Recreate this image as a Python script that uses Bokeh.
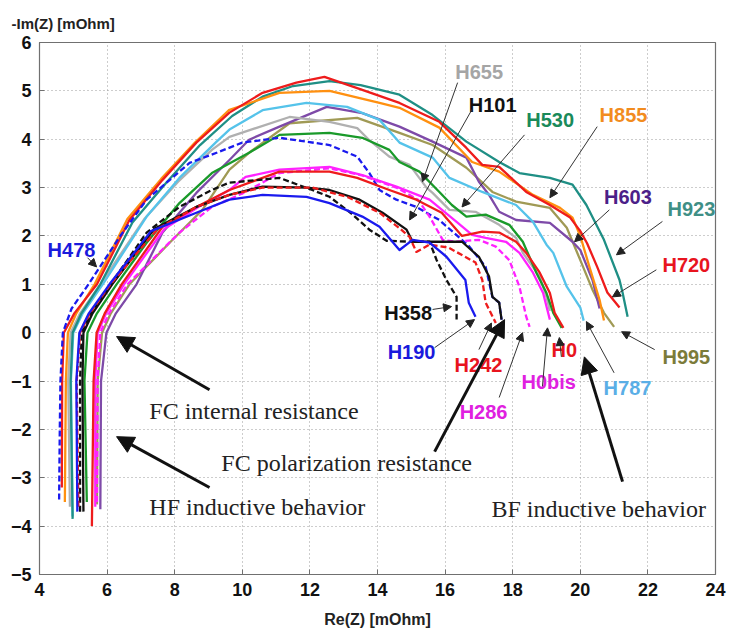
from bokeh.plotting import figure
from bokeh.models import Label, Arrow, NormalHead, SingleIntervalTicker
from bokeh.embed import file_html
from bokeh.resources import INLINE

# ---------------- data (Re(Z), -Im(Z)) in mOhm ----------------
H0_x = [5.55, 5.6, 5.69, 5.93, 6.43, 7.64, 8.64, 9.62, 11.1, 12.58, 13.4, 14.35, 15.15, 15.9, 16.5, 17.1, 17.6, 18.1, 18.4, 18.8, 19.1, 19.24, 19.5]
H0_y = [-4.0, -1.0, 0.0, 0.4, 1.0, 2.19, 2.6, 2.95, 3.33, 3.33, 3.2, 2.95, 2.75, 2.48, 2.0, 2.09, 2.07, 1.88, 1.65, 1.24, 0.82, 0.41, 0.1]

H0bis_x = [5.65, 5.65, 5.72, 5.97, 6.5, 7.7, 8.7, 9.62, 10.1, 11.1, 12.58, 13.55, 14.56, 15.54, 16.34, 16.8, 17.2, 17.8, 18.2, 18.6, 18.9, 19.0, 19.1]
H0bis_y = [-3.6, -1.0, 0.0, 0.4, 1.0, 2.15, 2.6, 2.95, 3.22, 3.37, 3.43, 3.26, 3.02, 2.75, 2.29, 2.02, 1.96, 1.88, 1.65, 1.24, 0.82, 0.54, 0.27]

H101_x = [5.3, 5.27, 5.3, 5.57, 6.15, 7.4, 8.64, 9.62, 10.6, 11.9, 12.58, 13.47, 14.15, 14.86, 15.04, 16.5, 17.0, 17.3, 17.4, 17.6, 17.67]
H101_y = [-3.7, -1.0, 0.0, 0.4, 1.0, 2.15, 2.6, 2.85, 3.02, 3.0, 2.95, 2.75, 2.48, 2.13, 1.88, 1.88, 1.57, 1.16, 0.74, 0.62, 0.27]

H190_x = [5.12, 5.09, 5.18, 5.46, 6.07, 7.3, 8.64, 9.62, 10.6, 11.9, 12.58, 13.55, 14.06, 14.65, 15.04, 15.54, 16.04, 16.6, 16.7, 16.9]
H190_y = [-3.7, -1.0, 0.0, 0.4, 1.0, 2.1, 2.48, 2.75, 2.85, 2.81, 2.68, 2.4, 2.19, 1.71, 1.92, 1.86, 1.57, 1.09, 0.62, 0.33]

H242_x = [5.15, 5.1, 5.2, 5.49, 6.1, 7.5, 8.64, 9.62, 10.6, 12.07, 13.1, 14.06, 14.65, 14.95, 15.15, 15.54, 16.1, 16.9, 17.1, 17.2, 17.5]
H242_y = [-3.6, -1.0, 0.0, 0.4, 1.0, 2.15, 2.6, 2.85, 3.0, 3.0, 2.81, 2.48, 2.16, 1.98, 1.67, 1.82, 1.76, 1.45, 1.09, 0.62, 0.2]

H286_x = [5.7, 5.72, 5.8, 6.06, 6.6, 8.14, 9.1, 10.1, 11.1, 12.58, 13.55, 14.56, 15.2, 15.54, 15.93, 16.3, 17.0, 17.5, 17.9, 18.2, 18.4, 18.5]
H286_y = [-3.5, -1.0, 0.0, 0.4, 1.0, 2.07, 2.6, 2.91, 3.3, 3.4, 3.25, 3.0, 2.75, 2.4, 1.92, 1.88, 1.92, 1.78, 1.5, 0.95, 0.33, 0.12]

H358_x = [5.2, 5.2, 5.25, 5.52, 6.1, 7.17, 8.14, 9.1, 9.6, 11.1, 12.07, 12.58, 13.2, 13.76, 14.27, 15.04, 15.54, 15.75, 16.04, 16.34, 16.34]
H358_y = [-3.7, -1.0, 0.0, 0.4, 1.0, 2.07, 2.6, 2.95, 3.1, 3.2, 2.95, 2.81, 2.48, 2.13, 1.9, 1.88, 1.88, 1.5, 1.09, 0.74, 0.27]

H478_x = [4.58, 4.6, 4.62, 4.69, 4.95, 5.45, 6.37, 7.17, 8.44, 9.24, 10.0, 11.1, 12.58, 13.4, 13.76, 14.06, 14.56, 15.15, 15.83, 16.72, 17.2, 17.4, 17.6, 17.67]
H478_y = [-3.45, -2.0, -1.0, 0.0, 0.5, 1.0, 1.98, 2.75, 3.51, 3.72, 3.93, 4.03, 3.88, 3.64, 3.3, 2.95, 2.75, 2.6, 2.33, 1.78, 1.36, 0.74, 0.62, 0.27]

H530_x = [5.4, 5.33, 5.42, 5.7, 6.28, 7.17, 8.14, 9.1, 10.2, 11.1, 12.58, 13.55, 14.35, 14.65, 15.24, 15.83, 16.2, 16.63, 17.2, 17.9, 18.3, 18.7, 19.0, 19.2, 19.45]
H530_y = [-3.5, -1.0, 0.0, 0.4, 1.0, 1.86, 2.68, 3.3, 3.72, 4.09, 4.13, 4.03, 3.78, 3.53, 3.33, 2.91, 2.64, 2.4, 2.44, 2.23, 1.88, 1.24, 0.82, 0.41, 0.1]

H603_x = [5.8, 5.82, 5.98, 6.26, 6.87, 7.64, 8.64, 9.62, 10.2, 11.1, 12.5, 13.55, 14.65, 15.63, 16.63, 17.0, 17.3, 17.6, 18.1, 19.1, 19.77, 20.0, 20.36, 20.57]
H603_y = [-3.65, -1.0, 0.0, 0.4, 1.0, 2.07, 2.89, 3.57, 3.99, 4.26, 4.67, 4.54, 4.26, 3.95, 3.62, 3.12, 2.85, 2.5, 2.33, 2.27, 1.88, 1.71, 1.09, 0.5]

H655_x = [4.9, 4.85, 4.92, 5.2, 5.8, 7.1, 8.1, 9.1, 9.62, 11.4, 12.58, 13.4, 13.76, 14.35, 14.95, 15.45, 15.63, 16.13, 16.9, 17.6, 18.1, 18.3, 18.8, 19.0, 19.1]
H655_y = [-3.6, -1.0, 0.0, 0.4, 1.0, 2.35, 3.12, 3.78, 4.05, 4.46, 4.36, 4.23, 3.98, 3.64, 3.47, 3.0, 2.89, 2.54, 2.5, 2.23, 1.96, 1.65, 1.16, 0.74, 0.45]

H720_x = [4.66, 4.67, 4.72, 5.03, 5.7, 6.66, 7.64, 8.64, 9.62, 10.6, 11.6, 12.43, 13.55, 14.65, 15.83, 16.63, 17.1, 17.6, 18.4, 19.1, 19.7, 20.0, 20.2, 20.5, 20.8, 21.16]
H720_y = [-3.2, -1.0, 0.0, 0.4, 1.0, 2.33, 3.16, 3.93, 4.55, 4.96, 5.17, 5.29, 5.02, 4.75, 4.36, 3.82, 3.47, 3.43, 2.91, 2.64, 2.38, 2.1, 1.85, 1.36, 0.83, 0.52]

H787_x = [4.98, 4.93, 5.0, 5.28, 5.87, 7.17, 8.14, 9.24, 9.62, 10.6, 11.9, 13.1, 14.06, 14.65, 15.63, 16.13, 17.1, 18.1, 18.6, 19.0, 19.2, 19.6, 20.0, 20.1]
H787_y = [-3.8, -1.0, 0.0, 0.4, 1.0, 2.4, 3.2, 3.95, 4.2, 4.6, 4.75, 4.67, 4.4, 3.93, 3.62, 3.2, 2.91, 2.64, 2.29, 1.82, 1.65, 0.95, 0.52, 0.25]

H855_x = [4.75, 4.78, 4.84, 5.09, 5.63, 6.6, 7.6, 8.6, 9.6, 11.1, 12.58, 14.06, 14.65, 15.83, 16.8, 17.6, 18.6, 19.4, 19.77, 20.0, 20.27, 20.57, 20.7]
H855_y = [-3.5, -1.0, 0.0, 0.4, 1.0, 2.35, 3.18, 3.93, 4.6, 4.96, 5.0, 4.75, 4.65, 4.24, 3.53, 3.33, 2.85, 2.58, 2.38, 2.0, 1.36, 0.68, 0.25]

H923_x = [4.98, 4.92, 4.98, 5.24, 5.8, 6.75, 7.75, 8.75, 9.7, 10.6, 11.5, 12.58, 13.5, 14.65, 15.63, 16.63, 17.6, 18.2, 19.1, 19.77, 20.18, 20.7, 21.16, 21.25, 21.4]
H923_y = [-3.85, -1.0, 0.0, 0.4, 1.0, 2.28, 3.1, 3.88, 4.48, 4.88, 5.1, 5.2, 5.12, 4.92, 4.5, 3.95, 3.53, 3.3, 3.2, 3.06, 2.64, 1.92, 1.09, 0.83, 0.33]

H995_x = [5.7, 5.72, 5.85, 6.11, 6.66, 7.85, 8.82, 9.62, 10.2, 11.4, 13.4, 14.65, 15.63, 16.63, 17.4, 18.1, 19.1, 19.6, 20.0, 20.36, 20.7, 21.0]
H995_y = [-3.55, -1.0, 0.0, 0.4, 1.0, 1.86, 2.54, 3.37, 3.72, 4.33, 4.44, 4.13, 3.88, 3.41, 2.91, 2.71, 2.58, 2.17, 1.5, 0.89, 0.41, 0.12]

x_ticks = list(range(4, 25, 2))
y_ticks = list(range(-5, 7))

# ---------------- styling ----------------
series = [
    ("H995", H995_x, H995_y, "#a09a55", "solid"),
    ("H603", H603_x, H603_y, "#7e4aa8", "solid"),
    ("H655", H655_x, H655_y, "#b0b0b0", "solid"),
    ("H787", H787_x, H787_y, "#55c3ea", "solid"),
    ("H530", H530_x, H530_y, "#1a9a2a", "solid"),
    ("H923", H923_x, H923_y, "#1f8f85", "solid"),
    ("H855", H855_x, H855_y, "#ff9010", "solid"),
    ("H720", H720_x, H720_y, "#ee1c1c", "solid"),
    ("H478", H478_x, H478_y, "#1a1aee", "6 3"),
    ("H0bis", H0bis_x, H0bis_y, "#ff22ff", "solid"),
    ("H286", H286_x, H286_y, "#ff22ff", "6 3"),
    ("H0", H0_x, H0_y, "#ee1c1c", "solid"),
    ("H101", H101_x, H101_y, "#111111", "solid"),
    ("H358", H358_x, H358_y, "#111111", "6 3"),
    ("H242", H242_x, H242_y, "#ee1c1c", "6 3"),
    ("H190", H190_x, H190_y, "#1a1aee", "solid"),
]

p = figure(frame_width=676, frame_height=532, x_range=(4, 24), y_range=(-5, 6),
           output_backend="svg", toolbar_location=None,
           min_border_left=39, min_border_right=13, min_border_top=42, min_border_bottom=50,
           title="-Im(Z) [mOhm]")
p.title.align = "left"
p.title.offset = -28
p.title.standoff = 21
p.title.text_font = "Liberation Sans"
p.title.text_font_style = "bold"
p.title.text_font_size = "15px"
p.title.text_color = "#222222"

p.background_fill_color = "white"
p.border_fill_color = "white"
p.outline_line_color = "#707070"
p.outline_line_width = 1.2

for ax in (p.xaxis[0], p.yaxis[0]):
    ax.major_label_text_font = "Liberation Sans"
    ax.major_label_text_font_style = "bold"
    ax.major_label_text_font_size = "18px"
    ax.major_label_text_color = "#111111"
    ax.axis_line_color = "#707070"
    ax.major_tick_line_color = "#707070"
    ax.major_tick_in = 5
    ax.major_tick_out = 0
    ax.minor_tick_line_color = None
    ax.major_label_standoff = 4
p.xaxis.ticker = SingleIntervalTicker(interval=2)
p.yaxis.ticker = SingleIntervalTicker(interval=1)
p.xaxis.axis_label = "Re(Z) [mOhm]"
p.xaxis.axis_label_text_font = "Liberation Sans"
p.xaxis.axis_label_text_font_style = "bold"
p.xaxis.axis_label_text_font_size = "16px"
p.xaxis.axis_label_text_color = "#222222"
p.xaxis.axis_label_standoff = 12

for g in (p.xgrid[0], p.ygrid[0]):
    g.grid_line_color = "#9a9a9a"
    g.grid_line_dash = "1 3"
    g.grid_line_width = 1
p.xgrid.ticker = SingleIntervalTicker(interval=2)
p.ygrid.ticker = SingleIntervalTicker(interval=1)

for name, xs, ys, col, dash in series:
    p.line(xs, ys, line_color=col, line_width=2.3, line_dash=dash, line_join="round")

# series labels
labels = [
    ("H655", 16.3, 5.39, "#a5a5a5"),
    ("H101", 16.7, 4.71, "#111111"),
    ("H530", 18.4, 4.4, "#1a8a5a"),
    ("H855", 20.57, 4.5, "#f28c1e"),
    ("H603", 20.7, 2.8, "#4b2088"),
    ("H923", 22.58, 2.55, "#3f8f86"),
    ("H720", 22.43, 1.4, "#e8141e"),
    ("H478", 4.24, 1.71, "#1a1adc"),
    ("H358", 14.2, 0.41, "#111111"),
    ("H190", 14.3, -0.39, "#1a1adc"),
    ("H242", 16.28, -0.66, "#e8141e"),
    ("H286", 16.43, -1.63, "#e020e0"),
    ("H0bis", 18.26, -1.01, "#e020e0"),
    ("H0", 19.15, -0.35, "#e8141e"),
    ("H787", 20.69, -1.14, "#5aaee6"),
    ("H995", 22.43, -0.5, "#7b7b3a"),
]
for t, x, y, c in labels:
    p.add_layout(Label(x=x, y=y, text=t, text_font="Liberation Sans", text_font_style="bold",
                       text_font_size="20px", text_color=c, text_baseline="middle", text_align="left"))

thin_arrows = [
    (16.37, 5.17, 15.33, 3.12),
    (16.8, 4.62, 14.95, 2.33),
    (18.35, 4.09, 16.5, 2.6),
    (20.5, 4.26, 19.1, 2.79),
    (20.86, 2.54, 19.83, 1.88),
    (22.43, 2.3, 21.07, 1.61),
    (22.25, 1.3, 20.95, 0.74),
    (5.42, 1.55, 5.69, 1.36),
    (15.63, 0.48, 16.19, 0.54),
    (15.69, -0.31, 16.87, 0.27),
    (17.0, -0.35, 17.37, 0.2),
    (17.6, -1.34, 18.29, 0.0),
    (18.88, -1.11, 19.03, 0.1),
    (19.44, -0.5, 19.38, -0.1),
    (21.0, -0.83, 20.18, 0.23),
    (22.2, -0.35, 21.22, 0.02),
]
for x0, y0, x1, y1 in thin_arrows:
    p.add_layout(Arrow(x_start=x0, y_start=y0, x_end=x1, y_end=y1, line_color="#333333", line_width=1,
                       end=NormalHead(size=8, fill_color="#222222", line_color="#222222")))

notes = [
    ("FC internal resistance", 7.25, -1.62),
    ("HF inductive behavior", 7.25, -3.6),
    ("FC polarization resistance", 9.38, -2.7),
    ("BF inductive behavior", 17.37, -3.64),
]
for t, x, y in notes:
    p.add_layout(Label(x=x, y=y, text=t, text_font="Liberation Serif", text_font_size="24px",
                       text_color="#222222", text_baseline="middle", text_align="left"))

big_arrows = [
    (9.03, -1.18, 6.28, -0.08),
    (9.03, -3.2, 6.28, -2.15),
    (15.69, -2.46, 17.76, 0.27),
    (21.25, -3.08, 20.12, -0.5),
]
for x0, y0, x1, y1 in big_arrows:
    p.add_layout(Arrow(x_start=x0, y_start=y0, x_end=x1, y_end=y1, line_color="#111111", line_width=3,
                       end=NormalHead(size=17, fill_color="#111111", line_color="#111111")))

open("out.html", "w").write(file_html(p, INLINE))
